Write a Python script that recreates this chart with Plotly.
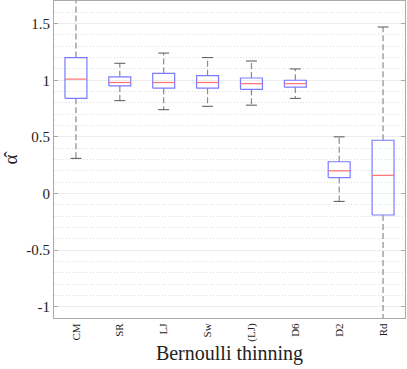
import plotly.graph_objects as go

# box statistics
labels = ["CM", "SR", "LJ", "Sw", "(LJ)", "D6", "D2", "Rd"]
lower = [0.31, 0.82, 0.74, 0.77, 0.78, 0.84, -0.07, -1.3]
q1 = [0.84, 0.95, 0.93, 0.93, 0.92, 0.94, 0.14, -0.19]
median = [1.01, 0.98, 0.98, 0.98, 0.97, 0.97, 0.20, 0.16]
q3 = [1.20, 1.03, 1.06, 1.04, 1.02, 1.00, 0.28, 0.47]
upper = [1.9, 1.15, 1.24, 1.20, 1.17, 1.10, 0.50, 1.47]

y_ticks = [-1, -0.5, 0, 0.5, 1, 1.5]
y_ticktext = ["-1", "-0.5", "0", "0.5", "1", "1.5"]

BW = 0.25  # box half width
CW = 0.125  # cap half width
pos = list(range(1, len(labels) + 1))

box_x, box_y = [], []
med_x, med_y = [], []
wh_x, wh_y = [], []
cap_x, cap_y = [], []
for i, p in enumerate(pos):
    box_x += [p - BW, p + BW, p + BW, p - BW, p - BW, None]
    box_y += [q1[i], q1[i], q3[i], q3[i], q1[i], None]
    med_x += [p - BW, p + BW, None]
    med_y += [median[i], median[i], None]
    wh_x += [p, p, None, p, p, None]
    wh_y += [q3[i], upper[i], None, q1[i], lower[i], None]
    cap_x += [p - CW, p + CW, None, p - CW, p + CW, None]
    cap_y += [upper[i], upper[i], None, lower[i], lower[i], None]

fig = go.Figure()
fig.add_trace(go.Scatter(x=wh_x, y=wh_y, mode="lines",
                         line=dict(color="#8a8a8a", width=1.2, dash="6px,3px"),
                         hoverinfo="skip"))
fig.add_trace(go.Scatter(x=cap_x, y=cap_y, mode="lines",
                         line=dict(color="#555555", width=1), hoverinfo="skip"))
fig.add_trace(go.Scatter(x=box_x, y=box_y, mode="lines",
                         line=dict(color="#7a7aff", width=1.2), hoverinfo="skip"))
fig.add_trace(go.Scatter(x=med_x, y=med_y, mode="lines",
                         line=dict(color="#ff7070", width=1.2), hoverinfo="skip"))

serif = "Liberation Serif, Times New Roman, serif"
fig.update_layout(
    width=407, height=369,
    showlegend=False,
    plot_bgcolor="white",
    paper_bgcolor="white",
    margin=dict(l=54, r=2, t=1, b=51, autoexpand=False),
    font=dict(family=serif, color="#222222"),
)
fig.update_xaxes(
    range=[0.5, 8.5], automargin=False,
    tickvals=pos, ticktext=labels, tickangle=-90,
    tickfont=dict(size=11, family=serif),
    ticks="", showgrid=False,
    showline=True, linecolor="#aaaaaa", linewidth=1, mirror=True,
    title=dict(text="Bernoulli thinning", font=dict(size=20, family=serif), standoff=4),
)
fig.update_yaxes(
    range=[-1.1, 1.7], automargin=False,
    tickvals=y_ticks, ticktext=y_ticktext,
    tickfont=dict(size=15, family=serif),
    ticks="inside", ticklen=4, tickcolor="#aaaaaa",
    showgrid=True, gridcolor="#ececec", gridwidth=1,
    minor=dict(dtick=0.1, showgrid=True, gridcolor="#dcdcdc", griddash="1px,2px", ticks=""),
    showline=True, linecolor="#aaaaaa", linewidth=1, mirror="ticks",
    zeroline=False,
    title=dict(text="α̂", font=dict(size=19, family=serif), standoff=10),
)

fig.write_html("out.html", config={"displayModeBar": False},
               post_script="document.body.style.margin='0';")
